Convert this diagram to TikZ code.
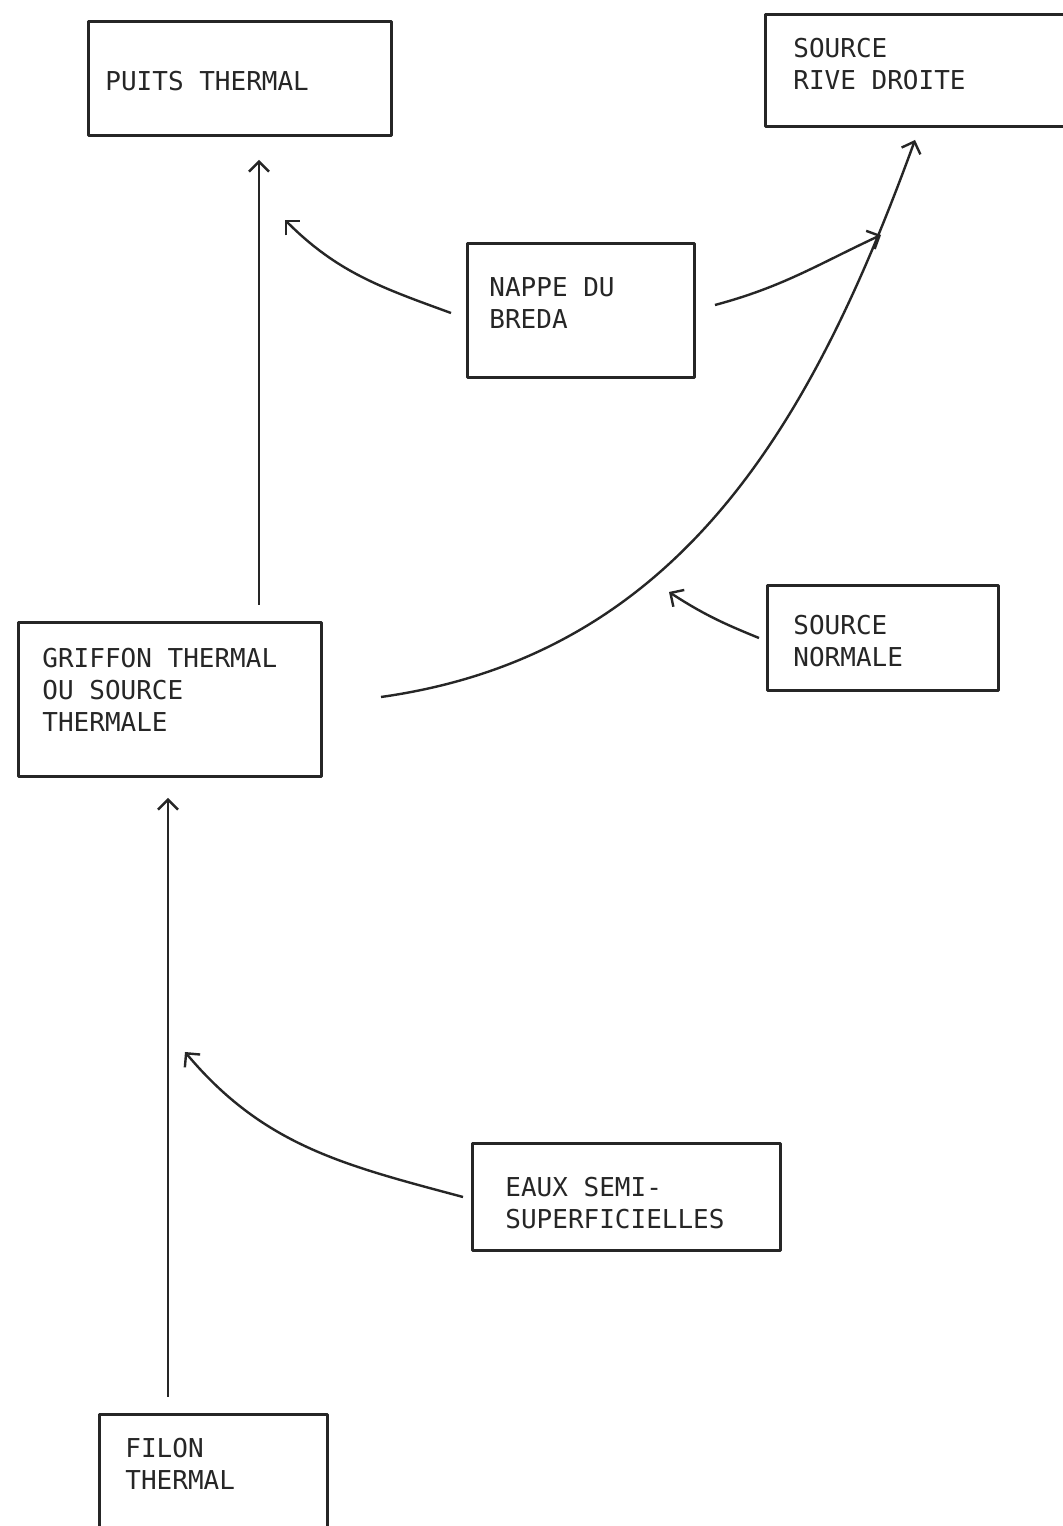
\documentclass[tikz,border=0pt]{standalone}
\usepackage{fontspec}
\newfontfamily\machine{DejaVu Sans Mono}
\usepackage{tikz}
\usetikzlibrary{arrows.meta,calc}

\begin{document}
\begin{tikzpicture}[x=0.5pt,y=0.5pt,line join=round]
\definecolor{encre}{RGB}{38,38,38}
\tikzset{
  caisse/.style={draw=encre,line width=1.5pt,inner sep=0pt,outer sep=0pt,anchor=north west},
  etiq/.style={anchor=west,align=left,inner sep=0pt,text=encre,
    font=\machine\fontsize{13}{16}\selectfont},
  fleche/.style={draw=encre,line width=1.2pt,-{Straight Barb[length=5pt,width=10pt]}}
}
\useasboundingbox[fill=white] (0,0) rectangle (1063,1526);
% boxes: name / top-left x / top-left y (from the top) / width / height / text offsets
\foreach \n/\x/\y/\w/\h/\p/\q/\t in {
  puits/88/22/303/114/17/59/{PUITS THERMAL},
  rive/765/15/320/112/28/49/{SOURCE\\RIVE DROITE},
  nappe/467/244/227/134/22/59/{NAPPE DU\\BREDA},
  griffon/18/623/303/154/24/67/{GRIFFON THERMAL\\OU SOURCE\\THERMALE},
  normale/767/586/231/105/26/55/{SOURCE\\NORMALE},
  eaux/472/1144/308/107/33/59/{EAUX SEMI-\\SUPERFICIELLES},
  filon/99/1415/228/150/26/49/{FILON\\THERMAL}}{
  \node[caisse,minimum width=\w*0.5pt,minimum height=\h*0.5pt] (\n) at (\x,1526-\y) {};
  \node[etiq] (\n-t) at ([shift={(\p,-\q)}]\n.north west) {\t};
}
% flows
\draw[fleche] ([shift={(241,18)}]griffon.north west) -- ([shift={(171,-24)}]puits.south west);
\draw[fleche] ([shift={(69,18)}]filon.north west) -- ([shift={(150,-21)}]griffon.south west);
\draw[fleche] ([shift={(-16,-2)}]nappe.west) to[out=160,in=-45] ([shift={(197,-84)}]puits.south west);
\draw[fleche] ([shift={(21,6)}]nappe.east) to[out=15,in=205] ([shift={(116,-108)}]rive.south west);
\draw[fleche] ([shift={(60,3)}]griffon.east) to[out=8,in=250] ([shift={(150,-13)}]rive.south west);
\draw[fleche] ([shift={(-8,0.5)}]normale.west) to[out=158,in=-33] ([shift={(-98,46.5)}]normale.west);
\draw[fleche] ([shift={(-9,0.5)}]eaux.west) to[out=165,in=-50] ([shift={(-287,145.5)}]eaux.west);
\end{tikzpicture}
\end{document}
